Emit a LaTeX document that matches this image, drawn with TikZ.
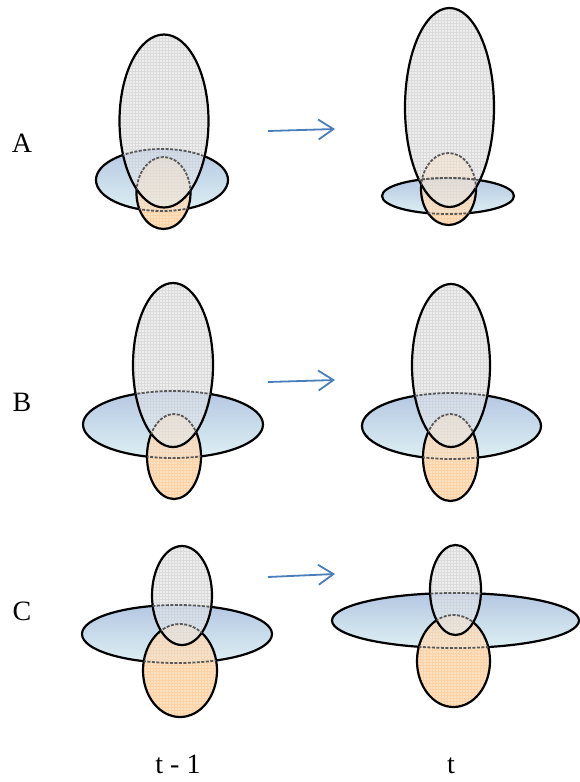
\documentclass[tikz,border=0pt]{standalone}
\usepackage{fontspec}
\setmainfont{Liberation Serif}
\usetikzlibrary{arrows.meta,patterns}
\definecolor{bluetop}{HTML}{B4C7E2}
\definecolor{bluebot}{HTML}{DDF0F3}
\definecolor{grayfill}{HTML}{EEEEEE}
\definecolor{orangefill}{HTML}{FDE1C3}
\definecolor{arrowblue}{HTML}{4A7EBB}
\begin{document}
\begin{tikzpicture}[x=1pt,y=-1pt,
    outline/.style={black,line width=2.2pt},
    hidden/.style={black!65,line width=1.8pt,dash pattern=on 3pt off 1.5pt},
    bluefill/.style={top color=bluetop,bottom color=bluebot},
    trans/.style={arrowblue,line width=1.8pt,-{Straight Barb[length=15pt,width=20pt]}},
    every node/.style={font=\fontsize{28}{32}\selectfont}]
    \useasboundingbox (0,0) rectangle (579,782);
    \foreach \gx/\gy/\grx/\gry/\bx/\by/\brx/\bry/\ox/\oy/\orx/\ory in {
        164/121/44.5/86.5/162/180/66/31/163.5/193/27/36,
        449.5/107.5/44.5/99.5/448/196/66/18/448.5/189/27.5/36,
        173/365/40/82/173/424.5/90/33.5/174/456.5/27/42.5,
        451/365.5/39/81.5/451.5/426/89.5/33/450.5/457.5/27.5/43.5,
        182/595.5/30/49.5/177/634/95/29/180/670.5/37/46.5,
        455.5/590/25.5/45/455.5/620.5/123.5/27.5/453.5/661/36.5/46} {
        \def\grayp{(\gx,\gy) ellipse [x radius=\grx pt,y radius=\gry pt]}
        \def\bluep{(\bx,\by) ellipse [x radius=\brx pt,y radius=\bry pt]}
        \def\orangep{(\ox,\oy) ellipse [x radius=\orx pt,y radius=\ory pt]}
        % blue disc
        \shade[bluefill] \bluep;
        \draw[outline] \bluep;
        % orange ellipse
        \fill[orangefill] \orangep;
        \fill[pattern=grid,pattern color=orange!35] \orangep;
        \begin{scope}
            \clip \orangep;
            \shade[bluefill,opacity=.25] \bluep;
        \end{scope}
        \draw[outline] \orangep;
        % gray ellipse
        \fill[grayfill] \grayp;
        \fill[pattern=grid,pattern color=black!14] \grayp;
        \begin{scope}
            \clip \grayp;
            \shade[bluefill,opacity=.45] \bluep;
            \fill[orangefill,opacity=.4] \orangep;
        \end{scope}
        \draw[outline] \grayp;
        % hidden edges
        \begin{scope}
            \clip \orangep;
            \draw[hidden] \bluep;
        \end{scope}
        \begin{scope}
            \clip \grayp;
            \draw[hidden] \bluep;
            \draw[hidden] \orangep;
        \end{scope}
    }
    \foreach \r/\ya/\yb in {A/131/129,B/382/380,C/577/574} {
        \coordinate (\r0) at (268,\ya);
        \coordinate (\r1) at (335,\yb);
        \draw[trans] (\r0) -- (\r1);
    }
    \node[anchor=base] (rowA) at (22,152) {A};
    \node[anchor=base] (rowB) at (22,411) {B};
    \node[anchor=base] (rowC) at (22,620) {C};
    \node[anchor=base] (prev) at (178,773) {t - 1};
    \node[anchor=base] (curr) at (451,773) {t};
\end{tikzpicture}
\end{document}
